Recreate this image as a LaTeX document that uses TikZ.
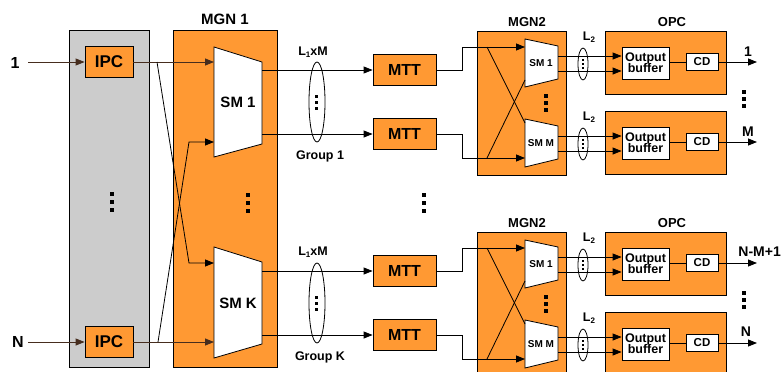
\documentclass[tikz,border=0pt]{standalone}
\usepackage{fontspec}
\setmainfont{Liberation Sans}
\usetikzlibrary{arrows.meta}
\definecolor{org}{RGB}{255,153,51}
\definecolor{gry}{RGB}{204,204,204}
\definecolor{brn}{RGB}{70,45,30}
\newcommand{\fsz}[1]{\fontsize{#1}{#1}\selectfont\bfseries}
\tikzset{
  pics/vd/.style={code={\foreach \k in {-1,0,1}{\fill[black] (-#1/2,\k*2*#1-#1/2) rectangle ++(#1,#1);}}},
}
\begin{document}
\begin{tikzpicture}[x=1pt,y=-1pt,
  box/.style={draw=black, line width=0.8pt, fill=org, inner sep=0pt},
  wbox/.style={draw=black, line width=0.8pt, fill=white, inner sep=0pt, align=center},
  conn/.style={line width=0.8pt},
  arr/.style={conn, -{Triangle[length=9pt,width=7pt]}},
  lbl/.style={inner sep=0pt},
  trap/.style={draw=black, line width=0.8pt, fill=white}
]
\useasboundingbox (0,0) rectangle (782,372);

% ---------- input stage ----------
\node[draw=black, line width=0.8pt, fill=gry, minimum width=80pt, minimum height=337pt, anchor=north west, inner sep=0pt] (ipcbg) at (69,30) {};
\node[box, minimum width=48pt, minimum height=31pt, font=\fsz{17}] (ipc1) at (109,62) {IPC};
\node[box, minimum width=48pt, minimum height=31pt, font=\fsz{17}] (ipcN) at (109,342) {IPC};
\node[lbl, font=\fsz{16}] (in1) at (15,63) {1};
\node[lbl, font=\fsz{16}] (inN) at (18,342) {N};
\coordinate (s1) at (28,62);
\coordinate (sN) at (28,342);
\draw[arr, brn] (s1) -- (ipc1.west);
\draw[arr, brn] (sN) -- (ipcN.west);
\pic at (112,202) {vd=4};

% ---------- MGN 1 ----------
\node[box, minimum width=104pt, minimum height=337pt, anchor=north west] (mgn1) at (173,30) {};
\node[lbl, font=\fsz{15}] (mgn1l) at (225,19) {MGN 1};
\draw[trap] (214,47) -- (262,62) -- (262,144) -- (214,157) -- cycle;
\node[lbl, font=\fsz{15}] (sm1) at (238,102) {SM 1};
\draw[trap] (214,247) -- (262,262) -- (262,344) -- (214,358) -- cycle;
\node[lbl, font=\fsz{15}] (smK) at (238,303) {SM K};
\pic at (248,203) {vd=4};

\coordinate (sm1a) at (214,62);
\coordinate (sm1b) at (214,142);
\coordinate (smKa) at (214,263);
\coordinate (smKb) at (214,342);
\draw[arr, brn] (ipc1.east) -- (sm1a);
\draw[arr, brn] (ipcN.east) -- (smKb);
\draw[arr] (157,62) -- (189,263) -- (smKa);
\draw[arr] (158,342) -- (189,142) -- (sm1b);

% ---------- MTT stage ----------
\foreach \n/\y in {1/70,2/134,3/271,4/335}{
  \node[box, minimum width=63pt, minimum height=31pt, font=\fsz{16}] (mtt\n) at (404.5,\y) {MTT};
}
\draw[arr] (262,70) -- (mtt1.west);
\draw[arr] (262,134) -- (mtt2.west);
\draw[arr] (262,271) -- (mtt3.west);
\draw[arr] (262,335) -- (mtt4.west);
\draw[conn] (317,102) ellipse [x radius=8pt, y radius=40pt];
\draw[conn] (317,303) ellipse [x radius=8pt, y radius=40pt];
\pic at (316,102) {vd=3};
\pic at (316,303) {vd=3};
\node[lbl, font=\fsz{12.5}] (g1l) at (313,52) {L\raisebox{-0.35ex}{\fsz{8}1}xM};
\node[lbl, font=\fsz{12.5}] (gKl) at (313,252) {L\raisebox{-0.35ex}{\fsz{8}1}xM};
\node[lbl, font=\fsz{12.5}] (g1) at (320,156) {Group 1};
\node[lbl, font=\fsz{12.5}] (gK) at (320,357) {Group K};
\pic at (424,203) {vd=4};

% ---------- MGN2 + OPC blocks ----------
\foreach \t/\y/\oa/\ob in {0/39/1/2,1/240/3/4}{
  \pgfmathsetmacro{\yb}{\y+80}
  % MGN2 box
  \node[box, minimum width=89pt, minimum height=144pt, anchor=north west] (mgnB\t) at (477,\y-8) {};
  \node[lbl, font=\fsz{13}] (mgnBl\t) at (527,\y-17) {MGN2};
  % switch modules
  \draw[trap] (525,\y) -- (558,\y+7) -- (558,\y+40) -- (525,\y+48) -- cycle;
  \node[lbl, font=\fsz{10}] (smA\t) at (541,\y+24) {SM 1};
  \draw[trap] (525,\yb) -- (558,\yb+7) -- (558,\yb+40) -- (525,\yb+48) -- cycle;
  \node[lbl, font=\fsz{10}] (smB\t) at (541,\yb+24) {SM M};
  \pic at (546,\y+64) {vd=3.5};
  % inputs from MTT
  \coordinate (inA\t) at (525,\y+8);
  \coordinate (inB\t) at (525,\yb+39);
  \draw[arr] (mtt\oa.east) -| (462,\y+8) -- (inA\t);
  \draw[arr] (mtt\ob.east) -| (462,\yb+39) -- (inB\t);
  \draw[conn] (487,\y+8) -- (525,\yb+4);
  \draw[conn] (487,\yb+39) -- (525,\y+41);
  % OPC pair
  \foreach \s/\yy in {A/\y, B/\yb}{
    \node[box, minimum width=121pt, minimum height=63pt, anchor=north west] (opc\s\t) at (605,\yy-8) {};
    \node[wbox, minimum width=47pt, minimum height=32pt, font=\fsz{12.5}] (buf\s\t) at (645.5,\yy+24) {Output\\[-1.5pt]buffer};
    \node[wbox, minimum width=32pt, minimum height=17pt, font=\fsz{11.5}] (cd\s\t) at (702,\yy+23) {CD};
    \draw[arr] (558,\yy+17) -- (buf\s\t.west |- 0,\yy+17);
    \draw[arr] (558,\yy+32) -- (buf\s\t.west |- 0,\yy+32);
    \draw[conn] (583,\yy+25) ellipse [x radius=5pt, y radius=16pt];
    \pic at (583,\yy+25) {vd=2};
    \node[lbl, font=\fsz{12.5}] (l2\s\t) at (589,\yy-2) {L\raisebox{-0.35ex}{\fsz{8}2}};
    \draw[conn] (buf\s\t.east |- cd\s\t.west) -- (cd\s\t.west);
    \coordinate (out\s\t) at (757,\yy+23);
    \draw[arr] (cd\s\t.east) -- (out\s\t);
  }
  \node[lbl, font=\fsz{13}] (opcl\t) at (672,\y-17) {OPC};
  \pic at (744,\y+60) {vd=3.5};
}
\node[lbl, font=\fsz{14}] (o1) at (748,52) {1};
\node[lbl, font=\fsz{14}] (oM) at (748,132) {M};
\node[lbl, font=\fsz{14}, anchor=east] (oNM) at (781,252) {N-M+1};
\node[lbl, font=\fsz{14}] (oN) at (746,332) {N};
\end{tikzpicture}
\end{document}
